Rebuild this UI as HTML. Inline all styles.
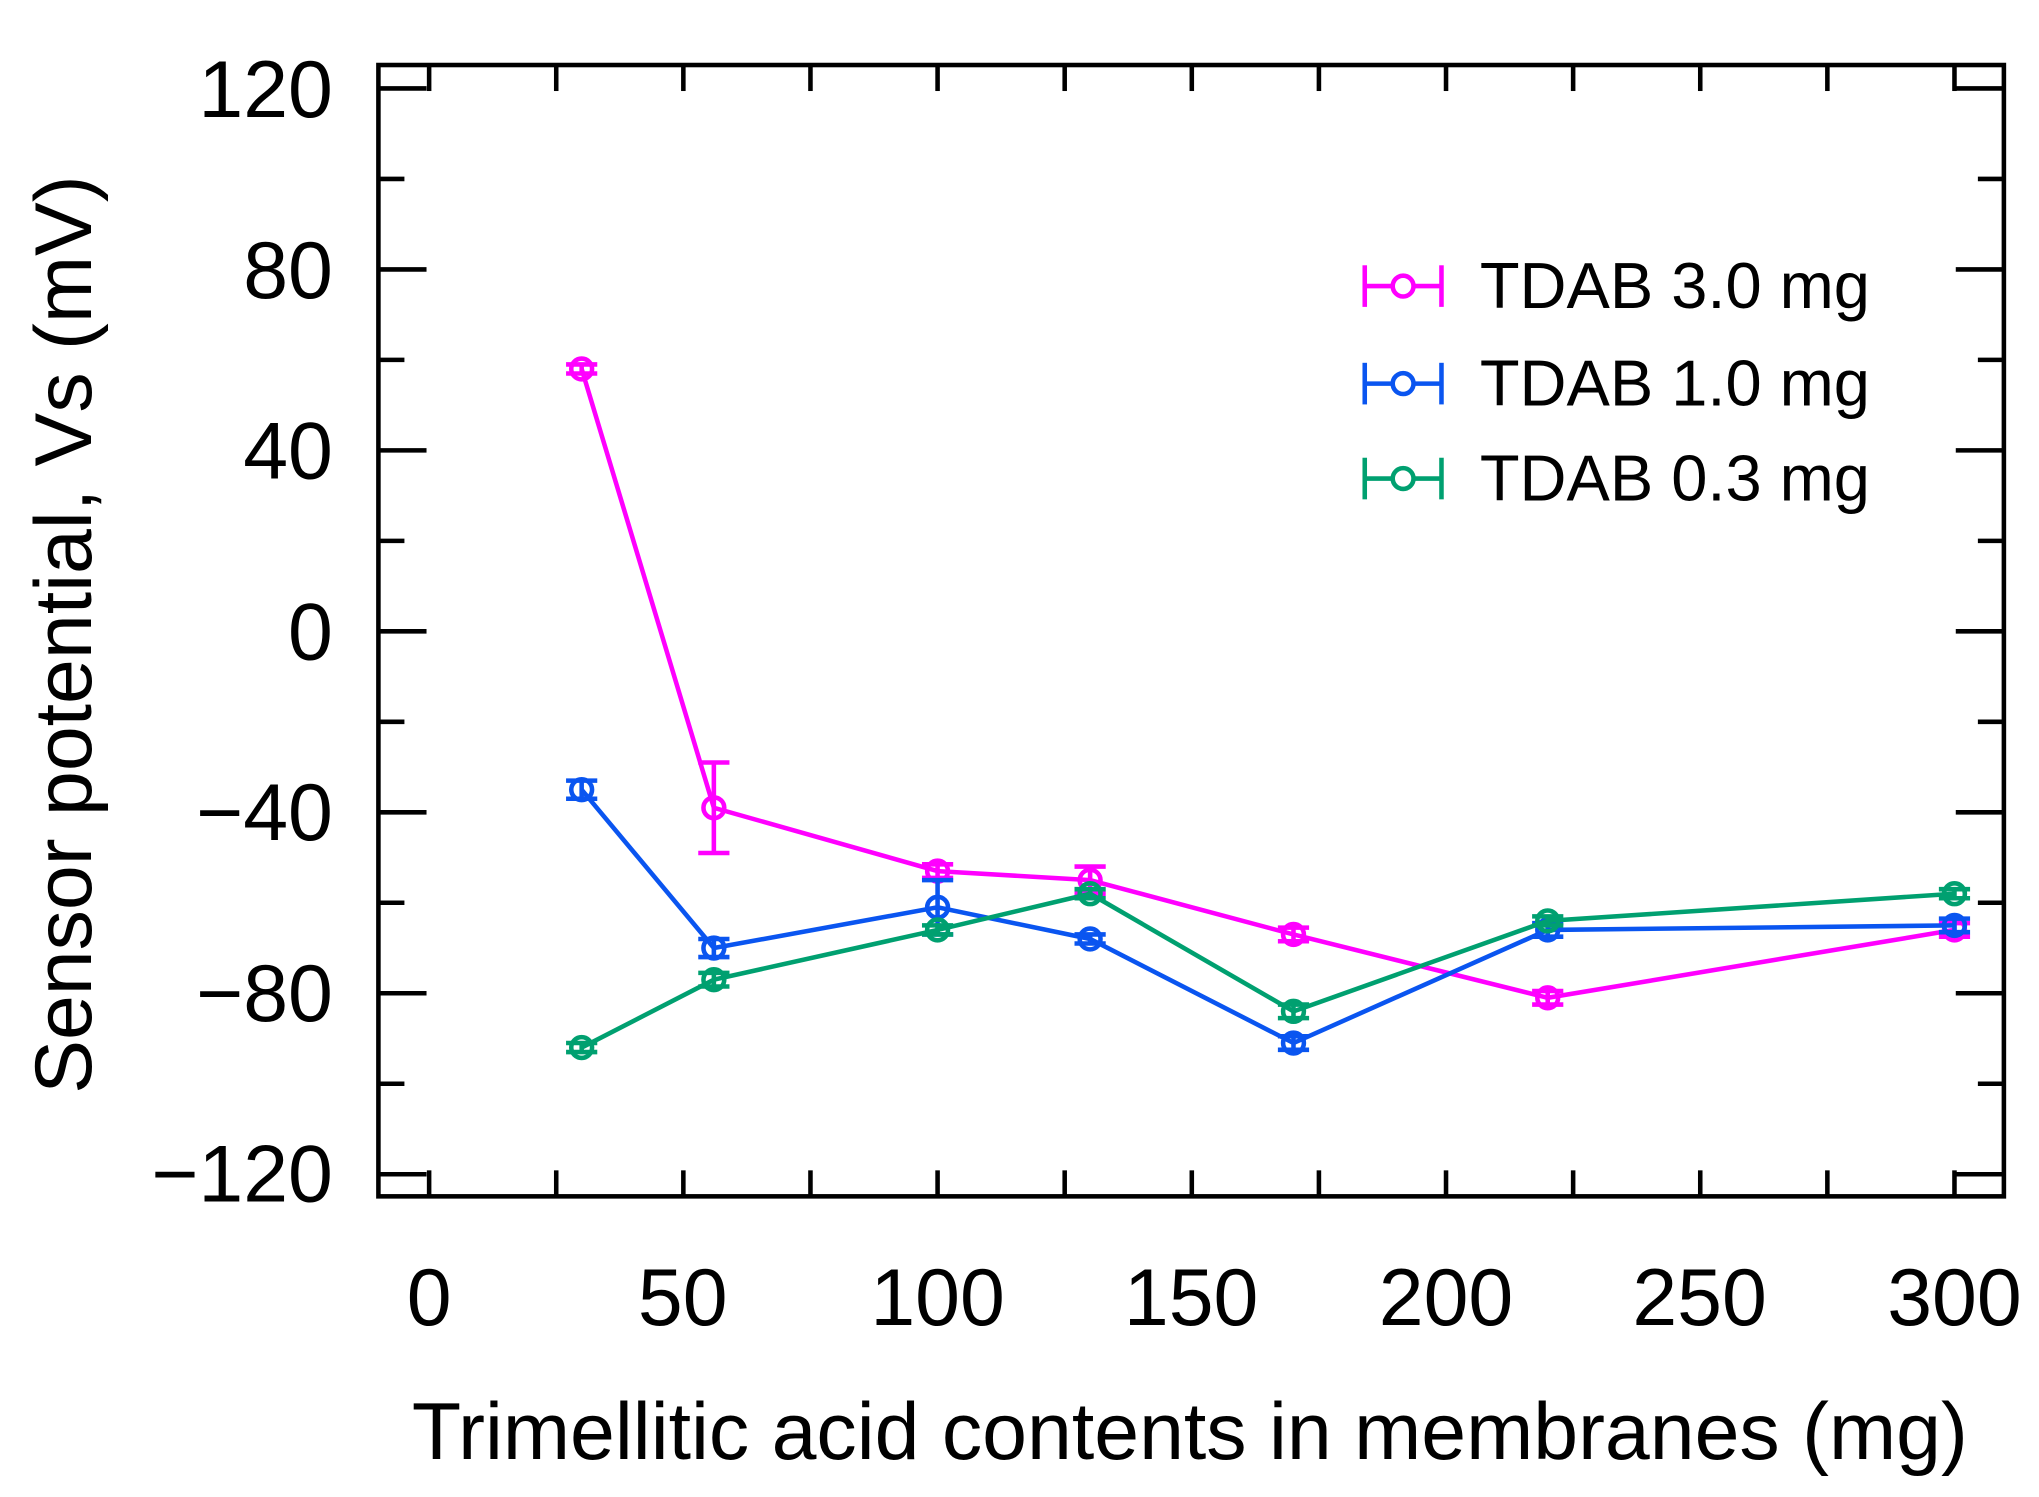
<!DOCTYPE html>
<html><head><meta charset="utf-8"><style>
html,body{margin:0;padding:0;background:#fff;}
svg{display:block;}
text{font-family:"Liberation Sans",sans-serif;fill:#000;}
</style></head><body>
<svg id="s" width="2039" height="1497" viewBox="0 0 1568 1151.2" preserveAspectRatio="none" xmlns="http://www.w3.org/2000/svg">
<rect x="291" y="50" width="1250" height="870" fill="none" stroke="#000" stroke-width="3.5"/>
<g id="ticks" stroke="#000" stroke-width="3.5"></g>
<g font-size="62" text-anchor="end">
<text x="256" y="90">120</text>
<text x="256" y="229">80</text>
<text x="256" y="368">40</text>
<text x="256" y="507">0</text>
<text x="256" y="646">−40</text>
<text x="256" y="785">−80</text>
<text x="256" y="924">−120</text>
</g>
<g font-size="62" text-anchor="middle">
<text x="330" y="1019">0</text>
<text x="525" y="1019">50</text>
<text x="721" y="1019">100</text>
<text x="916" y="1019">150</text>
<text x="1112" y="1019">200</text>
<text x="1307" y="1019">250</text>
<text x="1503" y="1019">300</text>
</g>
<text x="915" y="1122" font-size="62" text-anchor="middle">Trimellitic acid contents in membranes (mg)</text>
<text transform="translate(70,488) rotate(-90)" font-size="62" text-anchor="middle">Sensor potential, Vs (mV)</text>
<g id="series" fill="none" stroke-width="3.5"></g>
<g font-size="50">
<text x="1138" y="237">TDAB 3.0 mg</text>
<text x="1138" y="312">TDAB 1.0 mg</text>
<text x="1138" y="385">TDAB 0.3 mg</text>
</g>
<script>
const NS="http://www.w3.org/2000/svg";
function el(p,t,a){const e=document.createElementNS(NS,t);for(const k in a)e.setAttribute(k,a[k]);p.appendChild(e);return e;}
const X=v=>330+3.91*v, Y=v=>485.5-3.479*v;
const tg=document.getElementById('ticks');
for(let v=-120;v<=120;v+=20){const y=Y(v),L=(v%40===0)?37:20;
el(tg,'line',{x1:291,y1:y,x2:291+L,y2:y});el(tg,'line',{x1:1541,y1:y,x2:1541-L,y2:y});}
for(let v=0;v<=300;v+=25){const x=X(v),L=20;
el(tg,'line',{x1:x,y1:920,x2:x,y2:920-L});el(tg,'line',{x1:x,y1:50,x2:x,y2:50+L});}
const xs=[30,56,100,130,170,220,300];
const S=[
 {c:"#ff00ff",y:[58,-39,-53,-55,-67,-81,-66],e:[1,10,1.5,3,1.5,1.5,1.5],ly:220},
 {c:"#0a55f0",y:[-35,-70,-61,-68,-91,-66,-65],e:[2,2,6,1,1.5,1.5,1.5],ly:295},
 {c:"#00a070",y:[-92,-77,-66,-58,-84,-64,-58],e:[1,1.5,1,1,1.5,1,1],ly:368}];
const sg=document.getElementById('series');
S.forEach(s=>{
 el(sg,'polyline',{points:xs.map((x,i)=>X(x)+","+Y(s.y[i])).join(" "),stroke:s.c});
 xs.forEach((x,i)=>{const cx=X(x),cy=Y(s.y[i]),e=s.e[i]*3.479;
  el(sg,'line',{x1:cx,y1:cy-e,x2:cx,y2:cy+e,stroke:s.c});
  el(sg,'line',{x1:cx-12,y1:cy-e,x2:cx+12,y2:cy-e,stroke:s.c});
  el(sg,'line',{x1:cx-12,y1:cy+e,x2:cx+12,y2:cy+e,stroke:s.c});
  el(sg,'circle',{cx:cx,cy:cy,r:8,stroke:s.c,fill:"none"});});
 el(sg,'line',{x1:1048,y1:s.ly,x2:1110,y2:s.ly,stroke:s.c});
 el(sg,'line',{x1:1049.5,y1:s.ly-16,x2:1049.5,y2:s.ly+16,stroke:s.c});
 el(sg,'line',{x1:1108.5,y1:s.ly-16,x2:1108.5,y2:s.ly+16,stroke:s.c});
 el(sg,'circle',{cx:1079,cy:s.ly,r:8,stroke:s.c,fill:"#fff"});
});
</script>
</svg>
</body></html>
